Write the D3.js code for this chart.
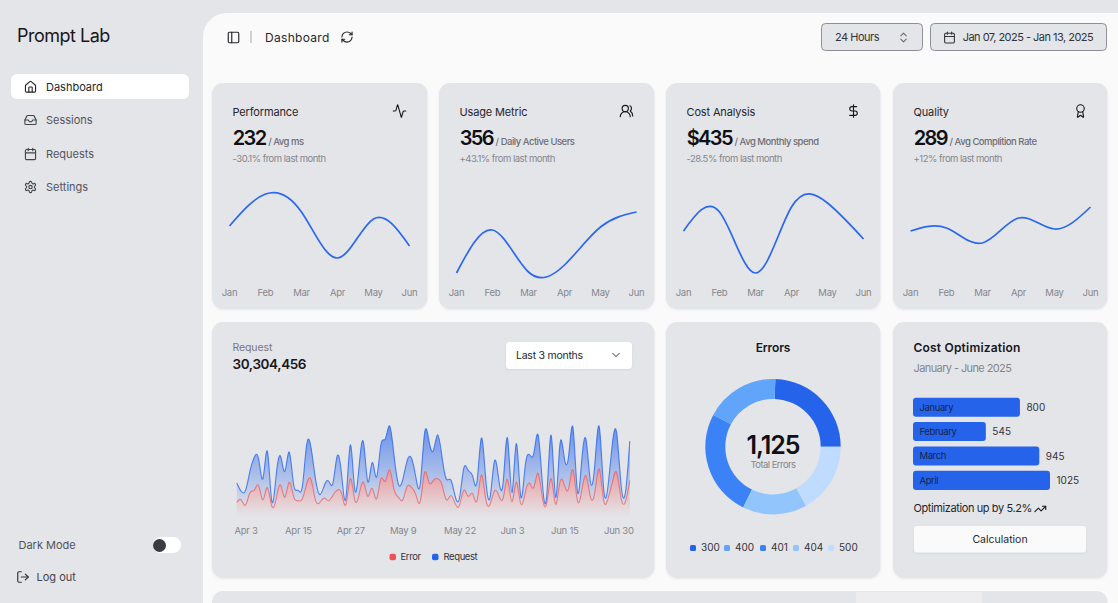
<!DOCTYPE html>
<html>
<head>
<meta charset="utf-8">
<script src="https://cdn.jsdelivr.net/npm/d3@7"></script>
<style>
  html, body { margin: 0; padding: 0; width: 1118px; height: 603px; overflow: hidden; background: #e4e5e9; }
  svg { display: block; font-family: Inter, "Noto Sans", sans-serif; }
  .axis path, .axis line { display: none; }
  .axis text { font-family: Inter, sans-serif; fill: #85858c; font-size: 9.5px; letter-spacing: -0.25px; }
</style>
</head>
<body>
<div id="chart"></div>
<script>
// sparkline cards
const months = ["Jan", "Feb", "Mar", "Apr", "May", "Jun"];
const performanceValues = [54, 86, 68, 22, 61, 34];
const usageValues = [7, 50, 8, 15, 53, 68];
const costValues = [49, 68, 7, 73, 77, 41];
const qualityValues = [49, 52, 37, 62, 51, 73];

// request chart, Apr 1 - Jun 30
const errorSeries = [150,180,120,260,290,340,180,320,110,190,350,210,380,220,170,190,360,410,180,150,200,170,230,290,250,130,420,180,240,380,220,310,190,420,390,520,300,210,180,330,320,240,160,490,380,400,420,350,180,230,140,120,290,220,250,170,460,190,130,280,230,200,410,160,380,140,250,370,320,480,200,150,420,130,380,350,310,520,170,290,450,210,270,530,180,190,380,490,200,160,400];
const requestSeries = [222,97,167,242,373,301,245,409,59,261,327,292,342,137,120,138,446,364,243,89,137,224,138,387,215,75,383,122,315,454,165,293,247,385,481,498,388,149,227,293,335,197,197,448,473,338,499,315,235,177,82,81,252,294,201,213,420,233,78,340,178,178,470,103,439,88,294,323,385,438,155,92,492,81,426,307,371,475,107,341,408,169,317,480,132,141,434,448,149,103,446];
const requestTickIndex = [2, 14, 26, 38, 51, 63, 75, 90];
const requestTickLabels = ["Apr 3", "Apr 15", "Apr 27", "May 9", "May 22", "Jun 3", "Jun 15", "Jun 30"];

// errors donut
const errorCodes = ["300", "400", "401", "404", "500"];
const errorCounts = [275, 200, 287, 173, 190];
const errorColors = ["#2563eb", "#60a5fa", "#3b82f6", "#93c5fd", "#bfdbfe"];

// cost optimization bars
const costMonths = ["January", "February", "March", "April"];
const costBars = [800, 545, 945, 1025];

const cards = [
  { left: 212, title: "Performance", value: "232", unit: "/ Avg ms", delta: "-30.1% from last month", icon: "activity", data: performanceValues },
  { left: 439, title: "Usage Metric", value: "356", unit: "/ Daily Active Users", delta: "+43.1% from last month", icon: "users", data: usageValues },
  { left: 666, title: "Cost Analysis", value: "$435", unit: "/ Avg Monthly spend", delta: "-28.5% from last month", icon: "dollar", data: costValues },
  { left: 893, title: "Quality", value: "289", unit: "/ Avg Complition Rate", delta: "+12% from last month", icon: "award", data: qualityValues }
];

const icons = {
  activity: '<path d="M22 12h-2.48a2 2 0 0 0-1.93 1.46l-2.35 8.36a.25.25 0 0 1-.48 0L9.24 2.18a.25.25 0 0 0-.48 0l-2.35 8.36A2 2 0 0 1 4.49 12H2"/>',
  users: '<path d="M18 21a8 8 0 0 0-16 0"/><circle cx="10" cy="8" r="5"/><path d="M22 20c0-3.37-2-6.5-4-8a5 5 0 0 0-.45-8.3"/>',
  dollar: '<path d="M12 2v20"/><path d="M17 5H9.5a3.5 3.5 0 0 0 0 7h5a3.5 3.5 0 0 1 0 7H6"/>',
  award: '<path d="m15.477 12.89 1.515 8.526a.5.5 0 0 1-.81.47l-3.58-2.687a1 1 0 0 0-1.197 0l-3.586 2.686a.5.5 0 0 1-.81-.469l1.514-8.526"/><circle cx="12" cy="8" r="6"/>',
  panel: '<rect x="3" y="3" width="18" height="18" rx="2"/><path d="M9 3v18"/>',
  refresh: '<path d="M3 12a9 9 0 0 1 9-9 9.75 9.75 0 0 1 6.74 2.74L21 8"/><path d="M21 3v5h-5"/><path d="M21 12a9 9 0 0 1-9 9 9.75 9.75 0 0 1-6.74-2.74L3 16"/><path d="M8 16H3v5"/>',
  home: '<path d="M15 21v-8a1 1 0 0 0-1-1h-4a1 1 0 0 0-1 1v8"/><path d="M3 10a2 2 0 0 1 .709-1.528l7-5.999a2 2 0 0 1 2.582 0l7 5.999A2 2 0 0 1 21 10v9a2 2 0 0 1-2 2H5a2 2 0 0 1-2-2z"/>',
  inbox: '<path d="M22 12h-6l-2 3h-4l-2-3H2"/><path d="M5.45 5.11 2 12v6a2 2 0 0 0 2 2h16a2 2 0 0 0 2-2v-6l-3.45-6.89A2 2 0 0 0 16.76 4H7.24a2 2 0 0 0-1.79 1.11z"/>',
  calendar: '<path d="M8 2v4"/><path d="M16 2v4"/><rect x="3" y="4" width="18" height="18" rx="2"/><path d="M3 10h18"/>',
  settings: '<path d="M12.22 2h-.44a2 2 0 0 0-2 2v.18a2 2 0 0 1-1 1.73l-.43.25a2 2 0 0 1-2 0l-.15-.08a2 2 0 0 0-2.73.73l-.22.38a2 2 0 0 0 .73 2.73l.15.1a2 2 0 0 1 1 1.72v.51a2 2 0 0 1-1 1.74l-.15.09a2 2 0 0 0-.73 2.73l.22.38a2 2 0 0 0 2.73.73l.15-.08a2 2 0 0 1 2 0l.43.25a2 2 0 0 1 1 1.73V20a2 2 0 0 0 2 2h.44a2 2 0 0 0 2-2v-.18a2 2 0 0 1 1-1.73l.43-.25a2 2 0 0 1 2 0l.15.08a2 2 0 0 0 2.73-.73l.22-.39a2 2 0 0 0-.73-2.73l-.15-.08a2 2 0 0 1-1-1.74v-.5a2 2 0 0 1 1-1.74l.15-.09a2 2 0 0 0 .73-2.73l-.22-.38a2 2 0 0 0-2.73-.73l-.15.08a2 2 0 0 1-2 0l-.43-.25a2 2 0 0 1-1-1.73V4a2 2 0 0 0-2-2z"/><circle cx="12" cy="12" r="3"/>',
  logout: '<path d="M9 21H5a2 2 0 0 1-2-2V5a2 2 0 0 1 2-2h4"/><path d="m16 17 5-5-5-5"/><path d="M21 12H9"/>',
  updown: '<path d="m7 15 5 5 5-5"/><path d="m7 9 5-5 5 5"/>',
  chevron: '<path d="m6 9 6 6 6-6"/>',
  trending: '<path d="M22 7 13.5 15.5 8.5 10.5 2 17"/><path d="M16 7h6v6"/>'
};

const svg = d3.select("#chart").append("svg").attr("width", 1118).attr("height", 603);
const defs = svg.append("defs");

const shadow = defs.append("filter").attr("id", "soft").attr("x", "-5%").attr("y", "-5%").attr("width", "110%").attr("height", "112%");
shadow.append("feDropShadow").attr("dx", 0).attr("dy", 1).attr("stdDeviation", 1).attr("flood-color", "#000").attr("flood-opacity", 0.07);

function gradient(id, color, top, bottom) {
  const g = defs.append("linearGradient").attr("id", id).attr("x1", 0).attr("y1", 0).attr("x2", 0).attr("y2", 1);
  g.append("stop").attr("offset", "5%").attr("stop-color", color).attr("stop-opacity", top);
  g.append("stop").attr("offset", "95%").attr("stop-color", color).attr("stop-opacity", bottom);
}
gradient("fillRequest", "#2563eb", 0.62, 0.08);
gradient("fillError", "#ef4444", 0.45, 0.03);

function box(x, y, w, h, r, fill, extra) {
  const b = svg.append("rect").attr("x", x).attr("y", y).attr("width", w).attr("height", h).attr("rx", r).attr("fill", fill);
  if (extra) b.attr("filter", "url(#soft)");
  return b;
}
function label(x, y, str, size, color, weight, anchor, spacing) {
  return svg.append("text").attr("x", x).attr("y", y).text(str)
    .attr("font-size", size).attr("fill", color).attr("font-weight", weight || 400)
    .attr("text-anchor", anchor || "start").attr("letter-spacing", spacing || 0);
}
function icon(name, cx, cy, size, color, width) {
  svg.append("g").attr("transform", `translate(${cx - size / 2},${cy - size / 2}) scale(${size / 24})`)
    .attr("fill", "none").attr("stroke", color).attr("stroke-width", width || 2)
    .attr("stroke-linecap", "round").attr("stroke-linejoin", "round").html(icons[name]);
}

// sidebar
label(17, 42, "Prompt Lab", 18, "#17171c", 400, "start", -0.5);
box(11, 74, 178, 25, 6, "#fff");
const navItems = [["Dashboard", "home", 87], ["Sessions", "inbox", 120], ["Requests", "calendar", 154], ["Settings", "settings", 187]];
navItems.forEach((d, i) => {
  icon(d[1], 30.5, d[2], 13.5, i == 0 ? "#26262c" : "#44444c");
  label(46, d[2] + 4, d[0], 11, i == 0 ? "#26262c" : "#53535b", 400, "start", 0);
});
label(18.5, 549, "Dark Mode", 11, "#53535b", 400, "start", 0);
box(153, 537, 28, 16, 8, "#fff");
svg.append("circle").attr("cx", 159.5).attr("cy", 545.5).attr("r", 6.5).attr("fill", "#3a3a42");
icon("logout", 23, 577, 14, "#33333a");
label(36.5, 581, "Log out", 11, "#44444c", 400, "start", 0);

// main panel
svg.append("path").attr("fill", "#fafafa").attr("d", "M203 603V37a24 24 0 0 1 24-24H1118V603Z");
icon("panel", 233.5, 37.5, 14, "#26262c");
svg.append("line").attr("x1", 251).attr("x2", 251).attr("y1", 31).attr("y2", 43).attr("stroke", "#a8a8ae");
label(265, 41.5, "Dashboard", 12, "#26262c", 400, "start", 0.3);
icon("refresh", 347, 37, 13.5, "#26262c");
box(821.5, 23.5, 101, 27, 4, "#e4e5e9").attr("stroke", "#8f8f96");
label(835, 41, "24 Hours", 11, "#33333a", 400, "start", -0.5);
icon("updown", 903.5, 37.5, 13, "#6a6a72");
box(930.5, 23.5, 176, 27, 4, "#e4e5e9").attr("stroke", "#8f8f96");
icon("calendar", 949.5, 37.5, 13, "#33333a");
label(962.7, 41, "Jan 07, 2025 - Jan 13, 2025", 11, "#33333a", 400, "start", -0.52);

// top row cards with sparklines
const sparkY = d3.scaleLinear().domain([0, 100]).range([280, 180]);
cards.forEach(c => {
  box(c.left, 83, c.left == 666 || c.left == 893 ? 214.5 : 215.5, 226, 11, "#e4e5e9", true);
  label(c.left + 20.5, 116, c.title, 11, "#26262c", 400, "start", -0.15);
  icon(c.icon, c.left + 187.5, 111, 15, "#17171c", 1.8);
  const head = label(c.left + 20.7, 145, c.value, 20, "#101014", 600, "start", -1.6);
  head.append("tspan").attr("dx", 2.6).attr("font-size", 9.5).attr("font-weight", 500)
    .attr("fill", "#6d6d75").attr("letter-spacing", -0.5).text(c.unit);
  label(c.left + 20.5, 161.5, c.delta, 9.5, "#85858c", 400, "start", -0.5);

  const x = d3.scalePoint().domain(months).range([c.left + 17.5, c.left + 197.5]);
  svg.append("g").attr("class", "axis").attr("transform", "translate(0,283)")
    .call(d3.axisBottom(x).tickSize(0).tickPadding(6))
    .selectAll("text").attr("dx", -0.5);
  const line = d3.line().x((d, i) => x(months[i])).y(d => sparkY(d)).curve(d3.curveNatural);
  svg.append("path").attr("d", line(c.data)).attr("fill", "none").attr("stroke", "#2b68ee").attr("stroke-width", 1.7);
});

// request card
box(212, 322, 442.5, 256, 11, "#e4e5e9", true);
label(232.5, 351, "Request", 10.5, "#777780", 400, "start", -0.1);
label(232.5, 368.5, "30,304,456", 13.5, "#17171c", 600, "start", -0.4);
box(506, 342, 126, 27, 4, "#fff", true);
label(516, 359, "Last 3 months", 10.5, "#26262c", 400, "start", -0.25);
icon("chevron", 616, 355, 13, "#77777f");

const stackRows = errorSeries.map((e, i) => ({ i: i, Error: e, Request: requestSeries[i] }));
const stacked = d3.stack().keys(["Error", "Request"])(stackRows);
const reqX = d3.scaleLinear().domain([0, 90]).range([236.8, 629.8]);
const reqY = d3.scaleLinear().domain([0, d3.max(stacked[1], d => d[1])]).range([515.7, 426]);
const reqArea = d3.area().x(d => reqX(d.data.i)).y0(d => reqY(d[0])).y1(d => reqY(d[1])).curve(d3.curveNatural);
const reqLine = d3.line().x(d => reqX(d.data.i)).y(d => reqY(d[1])).curve(d3.curveNatural);

svg.append("path").attr("d", reqArea(stacked[1])).attr("fill", "url(#fillRequest)");
svg.append("path").attr("d", reqLine(stacked[1])).attr("fill", "none").attr("stroke", "#2b68ee").attr("stroke-width", 1.1).attr("opacity", 0.8);
svg.append("path").attr("d", reqArea(stacked[0])).attr("fill", "url(#fillError)");
svg.append("path").attr("d", reqLine(stacked[0])).attr("fill", "none").attr("stroke", "#ef4444").attr("stroke-width", 1.1).attr("opacity", 0.6);

const reqAxis = svg.append("g").attr("class", "axis").attr("transform", "translate(0,521)")
  .call(d3.axisBottom(reqX).tickValues(requestTickIndex).tickSize(0).tickPadding(6)
    .tickFormat((d, i) => requestTickLabels[i]));
reqAxis.selectAll("text").filter((d, i) => i == requestTickLabels.length - 1).attr("dx", -11.5);

box(389.5, 553.7, 6.5, 6.5, 2, "#ef5058");
label(400.5, 560, "Error", 9.5, "#33333a", 400, "start", -0.4);
box(432, 553.7, 6.5, 6.5, 2, "#2563eb");
label(443.5, 560, "Request", 9.5, "#33333a", 400, "start", -0.4);

// errors card
box(666, 322, 214.5, 256, 11, "#e4e5e9", true);
label(773, 352, "Errors", 12, "#17171c", 600, "middle", -0.1);
const pie = d3.pie().sort(null).startAngle(Math.PI / 2).endAngle(Math.PI / 2 - 2 * Math.PI);
const arc = d3.arc().innerRadius(47.7).outerRadius(67.7);
svg.append("g").attr("transform", "translate(773,446.7)").selectAll("path").data(pie(errorCounts)).join("path")
  .attr("d", arc).attr("fill", (d, i) => errorColors[i]);
label(773, 453.5, d3.format(",")(d3.sum(errorCounts)), 25, "#101014", 600, "middle", -1);
label(773, 467.7, "Total Errors", 9.5, "#85858c", 400, "middle", -0.55);
const legendX = d3.scalePoint().domain(errorCodes).range([690, 828]);
const legendShift = [0, -0.5, 1, -0.5, 0];
errorCodes.forEach((code, i) => {
  box(legendX(code) + legendShift[i], 545, 6, 6, 1.5, errorColors[i]);
  label(legendX(code) + legendShift[i] + 11, 551, code, 10, "#33333a");
});

// cost optimization card
box(893, 322, 214.5, 256, 11, "#e4e5e9", true);
label(913.5, 352, "Cost Optimization", 12, "#17171c", 600, "start", 0.2);
label(913.5, 372, "January - June 2025", 11, "#85858c", 400, "start", -0.6);
const barX = d3.scaleLinear().domain([0, d3.max(costBars)]).range([0, 137]);
const barY = d3.scaleBand().domain(costMonths).range([397.7, 489.9]).paddingInner(0.22).paddingOuter(0);
svg.append("g").selectAll("rect").data(costBars).join("rect")
  .attr("x", 913).attr("y", (d, i) => barY(costMonths[i])).attr("width", d => barX(d)).attr("height", barY.bandwidth())
  .attr("rx", 3).attr("fill", "#2563eb");
costBars.forEach((d, i) => {
  label(919.5, barY(costMonths[i]) + 13, costMonths[i], 9.5, "#17244a", 400, "start", -0.4);
  label(913 + barX(d) + 6.5, barY(costMonths[i]) + 13.3, d, 10, "#33333a");
});
label(913.5, 512, "Optimization up by 5.2%", 11, "#26262c", 400, "start", -0.4);
icon("trending", 1040.3, 509, 13, "#17171c");
box(914, 526, 172, 26.5, 3, "#fafafa", true);
label(1000, 543, "Calculation", 10.5, "#26262c", 400, "middle");

// next row, cut off by the window
box(212, 591, 895.5, 40, 11, "#e4e5e9");
box(856, 592, 126, 20, 0, "#ededf0");
</script>
</body>
</html>
